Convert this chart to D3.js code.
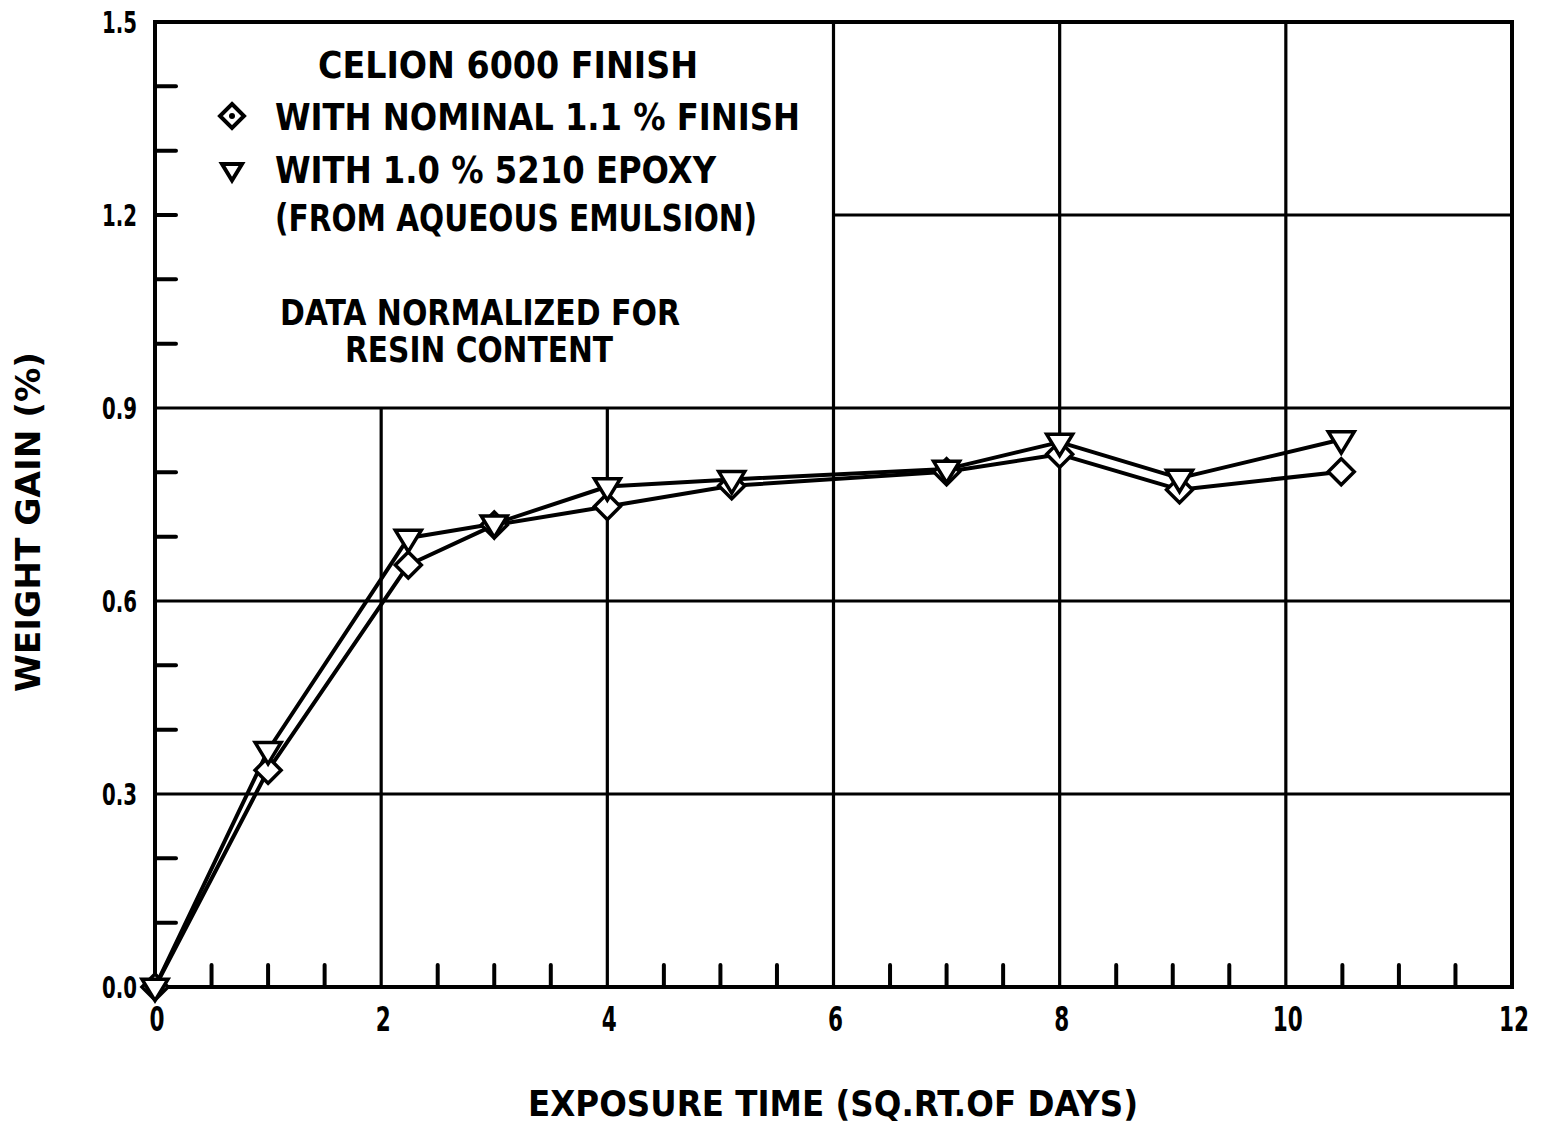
<!DOCTYPE html>
<html>
<head>
<meta charset="utf-8">
<script src="https://cdn.jsdelivr.net/npm/d3@7"></script>
<style>
  body { margin: 0; background: #fff; }
  text { font-family: "DejaVu Sans Condensed", "Liberation Sans Narrow", sans-serif; font-stretch: condensed; font-weight: bold; fill: #000; }
</style>
</head>
<body>
<div id="chart"></div>
<script>
// exposure time (sq. root of days) and weight gain (%)
var exposure = [0, 1.0, 2.24, 3.0, 4.0, 5.1, 7.0, 8.0, 9.06, 10.49];
var nominalFinish = [0.0, 0.337, 0.656, 0.718, 0.747, 0.779, 0.801, 0.828, 0.773, 0.801];
var epoxyFinish = [0.0, 0.368, 0.698, 0.72, 0.778, 0.789, 0.805, 0.847, 0.791, 0.851];

var xTicks = [0, 2, 4, 6, 8, 10, 12];
var yTicks = [0.0, 0.3, 0.6, 0.9, 1.2, 1.5];
var legendLines = ["WITH NOMINAL 1.1 % FINISH", "WITH 1.0 % 5210 EPOXY", "(FROM AQUEOUS EMULSION)"];

var width = 1541,
    height = 1127,
    margin = { left: 155, top: 22, right: 29, bottom: 140 };

var svg = d3.select("#chart")
    .append("svg")
    .attr("width", width)
    .attr("height", height);

var x = d3.scaleLinear().domain([0, 12]).range([margin.left, width - margin.right]);
var y = d3.scaleLinear().domain([0, 1.5]).range([height - margin.bottom, margin.top]);

var g = svg.append("g");

// grid: the legend sits in the box 0..6 / 0.9..1.5, so lines stop there
var vGrid = [2, 4, 6, 8, 10];
g.selectAll(".vgrid")
    .data(vGrid).enter()
    .append("line")
    .attr("x1", function(d) { return x(d); })
    .attr("x2", function(d) { return x(d); })
    .attr("y1", y(0))
    .attr("y2", function(d) { return d < 6 ? y(0.9) : y(1.5); })
    .style("stroke", "#000")
    .style("stroke-width", 3.2);

var hGrid = [0.3, 0.6, 0.9, 1.2];
g.selectAll(".hgrid")
    .data(hGrid).enter()
    .append("line")
    .attr("x1", function(d) { return d > 0.9 ? x(6) : x(0); })
    .attr("x2", x(12))
    .attr("y1", function(d) { return y(d); })
    .attr("y2", function(d) { return y(d); })
    .style("stroke", "#000")
    .style("stroke-width", 3.2);

// minor ticks
var xMinor = d3.range(0.5, 12, 0.5).filter(function(d) { return d % 2 != 0; });
g.selectAll(".xminor")
    .data(xMinor).enter()
    .append("line")
    .attr("x1", function(d) { return x(d); })
    .attr("x2", function(d) { return x(d); })
    .attr("y1", y(0))
    .attr("y2", y(0) - 22)
    .style("stroke", "#000")
    .style("stroke-width", 4)
    .style("stroke-linecap", "round");

var yMinor = d3.range(1, 15).map(function(d) { return d / 10; }).filter(function(d) { return d != 0.3 && d != 0.6 && d != 0.9; });
g.selectAll(".yminor")
    .data(yMinor).enter()
    .append("line")
    .attr("x1", x(0))
    .attr("x2", x(0) + 21)
    .attr("y1", function(d) { return y(d); })
    .attr("y2", function(d) { return y(d); })
    .style("stroke", "#000")
    .style("stroke-width", 4)
    .style("stroke-linecap", "round");

// frame
g.append("rect")
    .attr("x", x(0))
    .attr("y", y(1.5))
    .attr("width", x(12) - x(0))
    .attr("height", y(0) - y(1.5))
    .style("fill", "none")
    .style("stroke", "#000")
    .style("stroke-width", 4);

// tick labels
g.selectAll(".ylab")
    .data(yTicks).enter()
    .append("text")
    .attr("x", 137)
    .attr("y", function(d) { return y(d) + 11; })
    .attr("text-anchor", "end")
    .attr("textLength", 35)
    .attr("lengthAdjust", "spacingAndGlyphs")
    .style("font-size", "31px")
    .text(function(d) { return d.toFixed(1); });

g.selectAll(".xlab")
    .data(xTicks).enter()
    .append("text")
    .attr("x", function(d) { return x(d) + 2; })
    .attr("y", 1031)
    .attr("text-anchor", "middle")
    .attr("textLength", function(d) { return d < 10 ? 15 : 30; })
    .attr("lengthAdjust", "spacingAndGlyphs")
    .style("font-size", "34px")
    .text(function(d) { return d; });

// axis titles
svg.append("text")
    .attr("x", 833)
    .attr("y", 1116)
    .attr("text-anchor", "middle")
    .attr("textLength", 610)
    .attr("lengthAdjust", "spacingAndGlyphs")
    .style("font-size", "36px")
    .text("EXPOSURE TIME (SQ.RT.OF DAYS)");

svg.append("text")
    .attr("transform", "translate(40,522) rotate(-90)")
    .attr("text-anchor", "middle")
    .attr("textLength", 340)
    .attr("lengthAdjust", "spacingAndGlyphs")
    .style("font-size", "33px")
    .text("WEIGHT GAIN (%)");

// series
var line = d3.line()
    .x(function(d) { return x(d[0]); })
    .y(function(d) { return y(d[1]); });

var series = [
    { name: "nominal", values: d3.zip(exposure, nominalFinish) },
    { name: "epoxy", values: d3.zip(exposure, epoxyFinish) }
];

g.selectAll(".series")
    .data(series).enter()
    .append("path")
    .attr("d", function(d) { return line(d.values); })
    .style("fill", "none")
    .style("stroke", "#000")
    .style("stroke-width", 4)
    .style("stroke-linejoin", "round");

function diamond(s) {
    return "M0," + (-s) + "L" + s + ",0L0," + s + "L" + (-s) + ",0Z";
}
function triangle(s) {
    return "M" + (-s) + "," + (-0.6 * s) + "L" + s + "," + (-0.6 * s) + "L0," + (1.05 * s) + "Z";
}

g.selectAll(".dmark")
    .data(series[0].values).enter()
    .append("path")
    .attr("transform", function(d) { return "translate(" + x(d[0]) + "," + y(d[1]) + ")"; })
    .attr("d", diamond(13))
    .style("fill", "#fff")
    .style("stroke", "#000")
    .style("stroke-width", 3.5);

g.selectAll(".tmark")
    .data(series[1].values).enter()
    .append("path")
    .attr("transform", function(d) { return "translate(" + x(d[0]) + "," + y(d[1]) + ")"; })
    .attr("d", triangle(13))
    .style("fill", "#fff")
    .style("stroke", "#000")
    .style("stroke-width", 3.5);

// legend text
var legend = svg.append("g");

legend.append("text")
    .attr("x", 508)
    .attr("y", 78)
    .attr("text-anchor", "middle")
    .attr("textLength", 380)
    .attr("lengthAdjust", "spacingAndGlyphs")
    .style("font-size", "37px")
    .text("CELION 6000 FINISH");

var legendLen = [525, 441, 482];
var legendY = [130, 183, 231];
legend.selectAll(".ltext")
    .data(legendLines).enter()
    .append("text")
    .attr("x", 275)
    .attr("y", function(d, i) { return legendY[i]; })
    .attr("textLength", function(d, i) { return legendLen[i]; })
    .attr("lengthAdjust", "spacingAndGlyphs")
    .style("font-size", "37px")
    .text(function(d) { return d; });

legend.append("path")
    .attr("transform", "translate(232,116)")
    .attr("d", diamond(12))
    .style("fill", "#fff")
    .style("stroke", "#000")
    .style("stroke-width", 4);
legend.append("circle")
    .attr("cx", 232)
    .attr("cy", 116)
    .attr("r", 3)
    .style("fill", "#000");

legend.append("path")
    .attr("transform", "translate(232,170)")
    .attr("d", triangle(10))
    .style("fill", "#fff")
    .style("stroke", "#000")
    .style("stroke-width", 4);

legend.append("text")
    .attr("x", 480)
    .attr("y", 325)
    .attr("text-anchor", "middle")
    .attr("textLength", 400)
    .attr("lengthAdjust", "spacingAndGlyphs")
    .style("font-size", "35px")
    .text("DATA NORMALIZED FOR");

legend.append("text")
    .attr("x", 479)
    .attr("y", 362)
    .attr("text-anchor", "middle")
    .attr("textLength", 268)
    .attr("lengthAdjust", "spacingAndGlyphs")
    .style("font-size", "35px")
    .text("RESIN CONTENT");
</script>
</body>
</html>
